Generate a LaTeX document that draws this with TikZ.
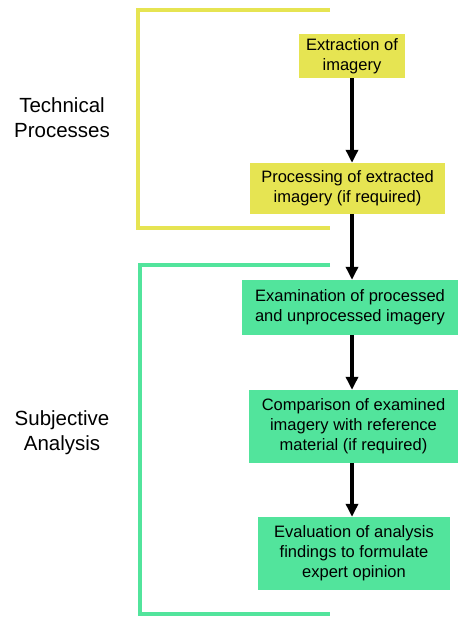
\documentclass[tikz,border=0pt]{standalone}
\usepackage{fontspec}
\setmainfont{Liberation Sans}
\usetikzlibrary{arrows.meta}

\definecolor{techyellow}{RGB}{230,228,82}
\definecolor{subjgreen}{RGB}{82,228,156}

\begin{document}
\begin{tikzpicture}[x = 1pt, y = -1pt,
		stepbox/.style = {inner sep = 0pt, align = center, font = \fontsize{16.5}{20}\selectfont},
		grouplabel/.style = {inner sep = 0pt, align = center, font = \fontsize{20.5}{25}\selectfont},
		flow/.style = {line width = 4pt, -{Triangle[width = 12pt, length = 13pt]}},
		bracket/.style = {line width = 3.5pt}]
	
		\useasboundingbox (0, 0) rectangle (460, 617);
		
		% Group brackets
		\draw[bracket, techyellow] (330, 10) -| (138, 228) -- (330, 228);
		\draw[bracket, subjgreen] (330, 265) -| (140, 614) -- (330, 614);
		
		% Group labels
		\node[grouplabel] (technical) at (62, 118) {Technical\\Processes};
		\node[grouplabel] (subjective) at (62, 433) {Subjective\\Analysis};
		
		% Steps
		\node[stepbox, fill = techyellow, minimum width = 106, minimum height = 44] (extract) at (352, 56) {Extraction of\\imagery};
		\node[stepbox, fill = techyellow, minimum width = 195, minimum height = 51] (process) at (347.5, 188.5) {Processing of extracted\\imagery (if required)};
		\node[stepbox, fill = subjgreen, minimum width = 216, minimum height = 55] (examine) at (350, 307.5) {Examination of processed\\and unprocessed imagery};
		\node[stepbox, fill = subjgreen, minimum width = 209, minimum height = 73] (compare) at (353.5, 426.5) {Comparison of examined\\imagery with reference\\material (if required)};
		\node[stepbox, fill = subjgreen, minimum width = 192, minimum height = 73] (evaluate) at (354, 553.5) {Evaluation of analysis\\findings to formulate\\expert opinion};
		
		% Arrows between steps
		\draw[flow] (extract.south) -- (extract.south |- process.north);
		\draw[flow] (extract.south |- process.south) -- (extract.south |- examine.north);
		\draw[flow] (extract.south |- examine.south) -- (extract.south |- compare.north);
		\draw[flow] (extract.south |- compare.south) -- (extract.south |- evaluate.north);
		
	\end{tikzpicture}
\end{document}
